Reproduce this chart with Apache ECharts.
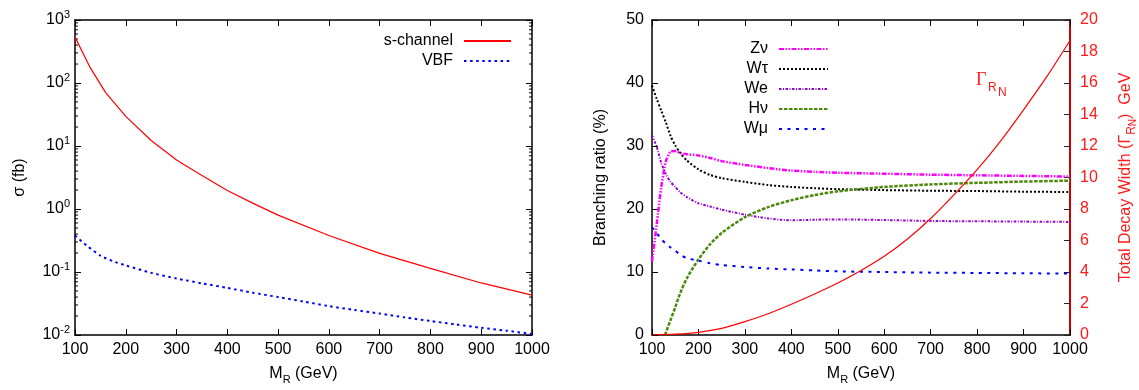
<!DOCTYPE html>
<html>
<head>
<meta charset="utf-8">
<script src="https://cdn.jsdelivr.net/npm/echarts@6/dist/echarts.min.js"></script>
<style>
  html, body { margin: 0; padding: 0; background: #fff; }
  #chart { width: 1139px; height: 390px; }
</style>
</head>
<body>
<div id="chart"></div>
<script>
// left panel: cross sections (fb)
const massS = [100, 130, 160, 200, 250, 300, 350, 400, 450, 500, 600, 700, 800, 900, 1000];
const sChannel = [535, 175, 71, 29.5, 12.2, 6.0, 3.4, 1.97, 1.24, 0.80, 0.38, 0.198, 0.114, 0.067, 0.043];
const massV = [100, 125, 150, 175, 200, 250, 300, 350, 400, 450, 500, 550, 600, 650, 700, 750, 800, 850, 900, 950, 1000];
const vbf = [0.38, 0.255, 0.182, 0.148, 0.127, 0.097, 0.079, 0.066, 0.056, 0.047, 0.040, 0.034, 0.0287, 0.025, 0.0219, 0.019, 0.0167, 0.0147, 0.013, 0.0117, 0.0104];

// right panel: branching ratios (%)
const massBR = [100, 110, 120, 130, 140, 150, 160, 175, 200, 225, 250, 300, 350, 400, 450, 500, 600, 700, 800, 900, 1000];
const zNu  = [11.7, 17.5, 23.5, 27.6, 29.1, 29.2, 28.9, 28.7, 28.5, 28.1, 27.6, 27.0, 26.5, 26.1, 25.9, 25.75, 25.6, 25.45, 25.35, 25.25, 25.15];
const wTau = [39.6, 37.5, 35.6, 33.7, 31.6, 30.1, 29.0, 27.7, 26.3, 25.4, 24.9, 24.3, 23.8, 23.5, 23.3, 23.15, 23.0, 22.9, 22.85, 22.75, 22.7];
const wE   = [31.7, 29.9, 27.3, 25.5, 24.3, 23.5, 22.7, 21.9, 20.9, 20.4, 19.9, 19.1, 18.5, 18.2, 18.3, 18.35, 18.25, 18.1, 18.05, 18.0, 17.95];
const wMu  = [17.1, 16.2, 15.2, 14.5, 13.9, 13.4, 12.8, 12.2, 11.8, 11.4, 11.1, 10.8, 10.55, 10.4, 10.25, 10.1, 10.0, 9.9, 9.85, 9.8, 9.75];
const massH = [128, 130, 140, 150, 160, 175, 200, 225, 250, 300, 350, 400, 450, 500, 600, 700, 800, 900, 1000];
const hNu  = [0, 0.4, 2.4, 4.4, 6.5, 9.0, 12.0, 14.4, 16.2, 18.7, 20.3, 21.4, 22.2, 22.8, 23.5, 23.9, 24.15, 24.35, 24.5];

// total decay width (GeV)
const massG = [100, 150, 200, 250, 300, 350, 400, 450, 500, 550, 600, 650, 700, 750, 800, 850, 900, 950, 1000];
const gamma = [0, 0.05, 0.17, 0.42, 0.85, 1.35, 1.95, 2.6, 3.3, 4.1, 5.0, 6.1, 7.4, 8.9, 10.5, 12.3, 14.3, 16.4, 18.7];

// minor ticks of the log axis (2..9 per decade)
const decades = [0.01, 0.1, 1, 10, 100];
const minorSteps = [2, 3, 4, 5, 6, 7, 8, 9];
const minorTicks = [];
decades.forEach(d => minorSteps.forEach(m => minorTicks.push(+(d * m).toPrecision(3))));

const FONT = 'Liberation Sans';
const pair = (xs, ys) => xs.map((x, i) => [x, ys[i]]);

const chart = echarts.init(document.getElementById('chart'));

const baseX = (grid, pos, show) => ({
  type: 'value',
  gridIndex: grid,
  position: pos,
  min: 100,
  max: 1000,
  interval: 100,
  axisLine: { show: true, onZero: false, lineStyle: { color: '#000', width: 1.5 } },
  axisTick: { show: true, inside: true, length: 6, lineStyle: { color: '#000' } },
  axisLabel: { show: show, color: '#000', fontSize: 16, fontFamily: FONT, margin: 7, formatter: v => String(v) },
  splitLine: { show: false }
});

const xName = {
  name: '{a|M}{s|R}{a| (GeV)}',
  nameLocation: 'middle',
  nameGap: 28,
  nameTextStyle: {
    rich: {
      a: { fontSize: 16, fontFamily: FONT, color: '#000', lineHeight: 22 },
      s: { fontSize: 11, fontFamily: FONT, color: '#000', lineHeight: 12, verticalAlign: 'bottom' }
    }
  }
};

const lineSeries = (name, data, xi, yi, color, width, dash) => ({
  name: name,
  type: 'line',
  xAxisIndex: xi,
  yAxisIndex: yi,
  data: data,
  symbol: 'none',
  showSymbol: false,
  smooth: 0.25,
  lineStyle: { color: color, width: width, type: dash || 'solid' },
  itemStyle: { color: color },
  z: 3
});

const legendBase = {
  orient: 'vertical',
  align: 'right',
  itemHeight: 14,
  itemGap: 4,
  itemStyle: { opacity: 0 },
  textStyle: { fontSize: 16, fontFamily: FONT, color: '#000', lineHeight: 14, padding: [0, 6, 0, 0] }
};

const option = {
  animation: false,
  backgroundColor: '#fff',
  grid: [
    { left: 75, top: 20, width: 457, height: 317, show: false },
    { left: 652, top: 20, width: 418, height: 318, show: false }
  ],
  legend: [
    Object.assign({}, legendBase, { data: ['s-channel', 'VBF'], right: 622, top: 28, itemWidth: 47 }),
    Object.assign({}, legendBase, { data: ['Zν', 'Wτ', 'We', 'Hν', 'Wμ'], right: 305, top: 36, itemWidth: 49 })
  ],
  xAxis: [
    Object.assign(baseX(0, 'bottom', true), xName),
    baseX(0, 'top', false),
    Object.assign(baseX(1, 'bottom', true), xName),
    baseX(1, 'top', false)
  ],
  yAxis: [
    {
      type: 'log',
      gridIndex: 0,
      position: 'left',
      logBase: 10,
      min: 0.01,
      max: 1000,
      axisLine: { show: true, lineStyle: { color: '#000', width: 1.5 } },
      axisTick: { show: true, inside: true, length: 6, lineStyle: { color: '#000' } },
      axisLabel: {
        margin: 5,
        formatter: v => '{b|10}{p|' + Math.round(Math.log10(v)) + '}',
        rich: {
          b: { fontSize: 16, fontFamily: FONT, color: '#000', lineHeight: 22 },
          p: { fontSize: 11, fontFamily: FONT, color: '#000', lineHeight: 12, verticalAlign: 'top' }
        }
      },
      splitLine: { show: false },
      name: 'σ (fb)',
      nameLocation: 'middle',
      nameGap: 47,
      nameTextStyle: { fontSize: 16, fontFamily: FONT, color: '#000' }
    },
    {
      type: 'log',
      gridIndex: 0,
      position: 'right',
      logBase: 10,
      min: 0.01,
      max: 1000,
      axisLine: { show: true, lineStyle: { color: '#000', width: 1.5 } },
      axisTick: { show: true, inside: true, length: 6, lineStyle: { color: '#000' } },
      axisLabel: { show: false },
      splitLine: { show: false }
    },
    {
      type: 'value',
      gridIndex: 1,
      position: 'left',
      min: 0,
      max: 50,
      interval: 10,
      axisLine: { show: true, lineStyle: { color: '#000', width: 1.5 } },
      axisTick: { show: true, inside: true, length: 6, lineStyle: { color: '#000' } },
      axisLabel: { color: '#000', fontSize: 16, fontFamily: FONT, margin: 8 },
      splitLine: { show: false },
      name: 'Branching ratio (%)',
      nameLocation: 'middle',
      nameGap: 43,
      nameTextStyle: { fontSize: 16, fontFamily: FONT, color: '#000' }
    },
    {
      type: 'value',
      gridIndex: 1,
      position: 'right',
      min: 0,
      max: 20,
      interval: 2,
      axisLine: { show: true, lineStyle: { color: '#cc0000', width: 2 } },
      axisTick: { show: true, inside: true, length: 6, lineStyle: { color: '#222' } },
      axisLabel: { color: '#ff1a1a', fontSize: 16, fontFamily: FONT, margin: 10 },
      splitLine: { show: false },
      name: '{a|Total Decay Width (Γ}{s|R}{t|N}{a|)  GeV}',
      nameLocation: 'middle',
      nameGap: 44,
      nameTextStyle: {
        rich: {
          a: { fontSize: 16, fontFamily: FONT, color: '#ff1a1a', lineHeight: 24 },
          s: { fontSize: 12, fontFamily: FONT, color: '#ff1a1a', lineHeight: 14, verticalAlign: 'bottom' },
          t: { fontSize: 10, fontFamily: FONT, color: '#ff1a1a', lineHeight: 9, verticalAlign: 'bottom' }
        }
      }
    }
  ],
  graphic: [
    { type: 'text', left: 976, top: 71, style: { text: 'Γ', font: '18px "Liberation Serif"', fill: '#ff1a1a' } },
    { type: 'text', left: 988, top: 82, style: { text: 'R', font: '12px "Liberation Sans"', fill: '#ff1a1a' } },
    { type: 'text', left: 998, top: 87, style: { text: 'N', font: '12px "Liberation Sans"', fill: '#ff1a1a' } }
  ],
  series: [
    Object.assign(lineSeries('s-channel', pair(massS, sChannel), 0, 0, '#ff0000', 1.2), { smooth: false }),
    lineSeries('VBF', pair(massV, vbf), 0, 0, '#0000ff', 2, [2.5, 3.6]),
    {
      type: 'custom',
      xAxisIndex: 0,
      yAxisIndex: 0,
      silent: true,
      data: minorTicks.map(v => [100, v]),
      encode: { x: 0, y: 1 },
      renderItem: (params, api) => {
        const v = api.value(1);
        const p0 = api.coord([100, v]);
        const p1 = api.coord([1000, v]);
        const st = { stroke: '#000', lineWidth: 1 };
        return {
          type: 'group',
          children: [
            { type: 'line', shape: { x1: p0[0], y1: p0[1], x2: p0[0] + 3, y2: p0[1] }, style: st },
            { type: 'line', shape: { x1: p1[0], y1: p1[1], x2: p1[0] - 3, y2: p1[1] }, style: st }
          ]
        };
      }
    },
    lineSeries('Zν', pair(massBR, zNu), 2, 2, '#ff00ff', 2.5, [5, 1.5, 1.5, 1.5, 1.5, 1.5]),
    lineSeries('Wτ', pair(massBR, wTau), 2, 2, '#000000', 2, [2, 2]),
    lineSeries('We', pair(massBR, wE), 2, 2, '#9400d3', 2, [2.5, 1.5, 1, 1.5]),
    lineSeries('Hν', pair(massH, hNu), 2, 2, '#4a8a0a', 2.5, [3.5, 1.5]),
    lineSeries('Wμ', pair(massBR, wMu), 2, 2, '#0000ff', 2, [3, 5.5]),
    lineSeries('ΓRN', pair(massG, gamma), 2, 3, '#ff0000', 1.2)
  ]
};

chart.setOption(option);
</script>
</body>
</html>
